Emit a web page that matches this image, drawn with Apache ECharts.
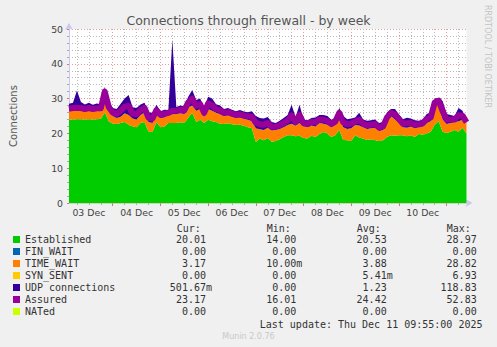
<!DOCTYPE html>
<html><head><meta charset="utf-8">
<script src="https://cdn.jsdelivr.net/npm/echarts/dist/echarts.min.js"></script>
<style>html,body{margin:0;padding:0;background:#f0f0f0}#c{width:497px;height:347px}</style>
</head><body><div id="c"></div>
<script>
// ---- data (2-hour samples, Dec 3 02:00 .. Dec 11 10:00) ----
const dayLabels = ['03 Dec','04 Dec','05 Dec','06 Dec','07 Dec','08 Dec','09 Dec','10 Dec'];
const seriesNames = ['Established','FIN_WAIT','TIME_WAIT','SYN_SENT','UDP connections','Assured','NATed'];
const seriesColors = ['#00cc00','#0066b3','#ff8000','#ffcc00','#330099','#990099','#ccff00'];

const established = [24.0,24.0,24.1,24.1,24.0,24.1,24.0,24.1,24.2,26.0,23.5,22.8,22.7,23.0,23.3,22.5,22.0,21.8,23.0,23.3,
20.5,20.4,23.3,21.8,22.0,23.0,23.0,23.0,23.2,23.0,24.5,25.9,23.3,23.9,23.0,23.9,23.5,23.3,22.8,22.7,
22.9,22.6,22.4,22.5,22.2,21.8,21.5,17.5,18.5,18.0,18.7,17.6,17.8,18.3,19.0,19.5,19.5,19.2,19.3,18.7,
18.5,19.3,19.0,19.8,20.4,20.0,19.0,19.5,21.0,18.1,18.0,17.8,19.5,18.8,18.5,18.1,18.3,18.0,17.8,18.0,
19.0,19.5,19.3,19.5,19.5,19.2,19.5,19.0,19.8,19.6,20.0,20.5,22.5,23.5,20.5,20.1,20.5,21.0,20.5,21.6,20.0];
const finWait = [0,0,0,0,0,0,0,0,0,0,0,0,0,0,0,0,0,0,0,0,0,0,0,0,0,0,0,0,0,0,0,0,0,0,0,0,0,0,0,0,0,0,0,0,0,0,0,0,0,0,
0,0,0,0,0,0,0,0,0,0,0,0,0,0,0,0,0,0,0,0,0,0,0,0,0,0,0,0,0,0,0,0,0,0,0,0,0,0,0,0,0,0,0,0,0,0,0,0,0,0,0];
const timeWait = [2.5,2.6,2.6,2.5,2.5,2.5,2.5,2.5,2.5,5.0,3.0,2.2,1.7,1.8,2.5,2.8,2.3,2.2,2.3,2.7,
2.8,2.6,2.2,2.6,2.6,2.3,2.5,2.6,2.6,2.6,3.0,2.1,3.2,3.1,1.7,3.1,3.0,2.6,2.7,2.3,
2.3,2.2,2.0,2.1,2.0,2.1,2.0,4.0,2.7,3.0,2.9,3.2,3.2,3.0,2.8,2.9,3.3,3.0,3.7,3.4,
3.3,3.0,3.0,3.2,2.4,2.5,2.8,3.0,3.7,3.7,3.3,3.7,2.9,3.5,3.3,3.2,3.2,3.6,2.9,3.0,
4.5,5.5,4.7,3.5,2.3,2.4,2.5,2.5,2.0,2.4,3.0,3.0,5.5,5.2,3.5,2.6,2.5,2.2,3.0,2.3,3.2];
const synSent = [0,0,0,0,0,0,0,0,0,0,0,0,0,0,0,0,0,0,0,0,0,0,0,0,0,0,0,0,0,0,0,0,0,0,0,0,0,0,0,0,0,0,0,0,0,0,0,0,0,0,
0,0,0,0,0,0,0,0,0,0,0,0,0,0,0,0,0,0,0,0,0,0,0,0,0,0,0,0,0,0,0,0,0,0,0,0,0,0,0,0,0,0,0,0,0,0,0,0,0,0,0];
const udp = [2.0,2.2,5.6,2.4,1.8,2.2,1.7,2.0,1.7,2.3,2.5,2.3,2.6,3.7,4.2,5.7,3.2,3.3,3.0,2.8,
2.7,2.9,2.7,2.0,2.2,1.4,21.5,2.0,2.2,2.2,3.0,4.5,3.1,3.0,2.6,3.5,3.5,2.5,2.5,2.0,
2.1,2.0,2.0,2.1,2.1,2.2,2.9,3.5,3.2,3.3,3.1,2.5,2.0,2.3,2.6,2.9,5.4,2.5,5.2,1.8,
2.0,2.1,2.6,2.3,2.5,2.5,2.1,2.0,2.6,3.2,2.8,2.8,2.2,3.6,2.2,2.3,2.3,2.4,2.3,2.3,
2.5,2.0,3.0,2.5,2.3,2.9,2.3,2.3,1.8,2.0,2.6,2.5,2.0,1.5,5.3,2.9,2.3,1.8,3.8,2.6,0.5];
const assured = [27.1,27.3,27.3,27.3,27.0,27.3,27.0,27.2,27.2,32.0,27.6,26.0,25.6,26.5,27.7,27.9,25.7,25.5,26.7,27.3,
24.5,24.3,26.7,25.3,25.6,25.9,26.5,26.5,26.8,26.6,28.9,30.0,27.9,28.4,25.9,28.6,28.1,27.0,26.6,25.9,
26.1,25.7,25.3,25.5,25.1,24.9,24.8,23.1,22.6,22.5,23.0,21.9,21.9,22.3,23.0,23.7,25.2,23.3,25.3,22.9,
22.7,23.3,23.2,24.0,23.9,23.6,22.7,23.4,25.9,23.2,22.6,22.8,23.4,23.9,22.8,22.3,22.5,22.7,21.7,22.0,
24.6,25.9,25.4,24.1,22.8,22.9,23.0,22.5,22.6,22.9,24.2,24.6,28.9,29.4,26.4,24.0,24.0,24.0,25.2,25.1,23.2];
const nated = [0,0,0,0,0,0,0,0,0,0,0,0,0,0,0,0,0,0,0,0,0,0,0,0,0,0,0,0,0,0,0,0,0,0,0,0,0,0,0,0,0,0,0,0,0,0,0,0,0,0,
0,0,0,0,0,0,0,0,0,0,0,0,0,0,0,0,0,0,0,0,0,0,0,0,0,0,0,0,0,0,0,0,0,0,0,0,0,0,0,0,0,0,0,0,0,0,0,0,0,0,0];

const curVals = ['20.01 ','0.00 ','3.17 ','0.00 ','501.67m','23.17 ','0.00 '];
const minVals = ['14.00 ','0.00 ','10.00m','0.00 ','0.00 ','16.01 ','0.00 '];
const avgVals = ['20.53 ','0.00 ','3.88 ','5.41m','1.23 ','24.42 ','0.00 '];
const maxVals = ['28.97 ','0.00 ','28.82 ','6.93 ','118.83 ','52.83 ','0.00 '];

// category slots: 2-hour steps starting Dec 3 02:00
const categories = [];
for (let i = 0; i < established.length; i++) {
  const h = 2 + 2 * i;
  const d = 3 + Math.floor(h / 24);
  categories.push('Dec ' + d + ' ' + String(h % 24).padStart(2, '0') + ':00');
}
const isNoon = (i) => i % 12 === 5;
const isMidnight = (i) => i % 12 === 11;
const isSixHour = (i) => i % 3 === 2 && !isMidnight(i);

const chart = echarts.init(document.getElementById('c'), null, {renderer: 'svg'});

const stackArea = (idx, data) => ({
  name: seriesNames[idx], type: 'line', stack: 'total', data: data, symbol: 'none',
  lineStyle: {width: 0}, areaStyle: {color: seriesColors[idx], opacity: 1},
  itemStyle: {color: seriesColors[idx]}, z: 2, silent: true, animation: false
});

const mono = 'DejaVu Sans Mono';
const graphics = [];
const rowY0 = 239.5, rowStep = 12;
[['Cur:',176.7],['Min:',266.7],['Avg:',356.7],['Max:',446.7]].forEach(([t,x]) => {
  graphics.push({type:'text', x:x, y:228, style:{text:t, font:'10px ' + mono, fill:'#333', align:'left', verticalAlign:'middle'}});
});
const cols = [[curVals,212],[minVals,302.3],[avgVals,392.7],[maxVals,482.7]];
for (let r = 0; r < seriesNames.length; r++) {
  cols.forEach(([arr,x]) => {
    graphics.push({type:'text', x:x, y:rowY0 + r*rowStep, style:{text:arr[r], font:'10px ' + mono, fill:'#333', align:'right', verticalAlign:'middle'}});
  });
}
graphics.push({type:'text', x:482.5, y:324, style:{text:'Last update: Thu Dec 11 09:55:00 2025', font:'10px ' + mono, fill:'#333', align:'right', verticalAlign:'middle'}});
graphics.push({type:'text', x:248.5, y:336.5, style:{text:'Munin 2.0.76', font:'8px DejaVu Sans', fill:'#c8c8c8', align:'center', verticalAlign:'middle'}});
graphics.push({type:'text', x:487, y:5, rotation:-Math.PI/2, style:{text:'RRDTOOL / TOBI OETIKER', font:'8px DejaVu Sans', fill:'#c4c4c4', align:'left', verticalAlign:'middle'}});

const option = {
  animation: false,
  backgroundColor: '#f0f0f0',
  title: {text: 'Connections through firewall - by week', left: 'center', top: 9,
    textStyle: {fontFamily: 'DejaVu Sans', fontSize: 12.5, fontWeight: 'normal', color: '#555'}},
  legend: {orient: 'vertical', left: 13, top: 234.5, padding: 0, itemGap: 2, itemWidth: 7, itemHeight: 7,
    icon: 'rect', selectedMode: false, data: seriesNames,
    textStyle: {fontFamily: mono, fontSize: 10, color: '#333', lineHeight: 10}},
  grid: {left: 66.5, top: 29, width: 400, height: 174, show: true, backgroundColor: '#ffffff', borderWidth: 0},
  xAxis: [{
    type: 'category', data: categories, boundaryGap: false, position: 'bottom',
    axisLine: {show: true, lineStyle: {color: '#c8c8f0', width: 1}, symbol: ['none','arrow'], symbolSize: [6,7], symbolOffset: [0, 6]},
    axisTick: {show: true, interval: (i) => isSixHour(i), length: 2, lineStyle: {color: '#aaa'}},
    axisLabel: {interval: (i) => isNoon(i), formatter: (v, i) => dayLabels[(i - 5) / 12] || '',
      fontFamily: 'DejaVu Sans', fontSize: 9.33, color: '#444', margin: 5},
    splitLine: {show: true, interval: (i) => isSixHour(i), lineStyle: {color: '#bababa', type: [1,2], width: 1}}
  }, {
    type: 'category', data: categories, boundaryGap: false, position: 'bottom',
    axisLine: {show: false}, axisLabel: {show: false},
    axisTick: {show: true, interval: (i) => isMidnight(i), length: 3, lineStyle: {color: '#e07070'}},
    splitLine: {show: true, interval: (i) => isMidnight(i), lineStyle: {color: '#e89c9c', type: [1,2], width: 1}}
  }],
  yAxis: {
    type: 'value', min: 0, max: 50, interval: 10,
    name: 'Connections', nameLocation: 'middle', nameRotate: 90, nameGap: 51,
    nameTextStyle: {fontFamily: 'DejaVu Sans', fontSize: 10, color: '#555'},
    axisLine: {show: true, lineStyle: {color: '#c8c8f0', width: 1}, symbol: ['none','arrow'], symbolSize: [6,7], symbolOffset: [0, 6]},
    axisTick: {show: true, length: 2, lineStyle: {color: '#e07070'}},
    minorTick: {show: true, splitNumber: 5, length: 2, lineStyle: {color: '#aaa'}},
    axisLabel: {fontFamily: 'DejaVu Sans', fontSize: 9.33, color: '#444', margin: 6},
    splitLine: {show: true, lineStyle: {color: '#e89c9c', type: [1,2], width: 1}},
    minorSplitLine: {show: true, lineStyle: {color: '#bababa', type: [1,2], width: 1}}
  },
  series: [
    stackArea(0, established),
    stackArea(1, finWait),
    stackArea(2, timeWait),
    stackArea(3, synSent),
    stackArea(4, udp),
    {name: seriesNames[5], type: 'line', data: assured, symbol: 'none', z: 3, silent: true,
      lineStyle: {width: 6, color: seriesColors[5], join: 'round'}, itemStyle: {color: seriesColors[5]}},
    {name: seriesNames[6], type: 'line', data: nated, symbol: 'none', z: 1, silent: true,
      lineStyle: {width: 1, color: seriesColors[6]}, itemStyle: {color: seriesColors[6]}}
  ],
  graphic: graphics
};
chart.setOption(option);
</script></body></html>
